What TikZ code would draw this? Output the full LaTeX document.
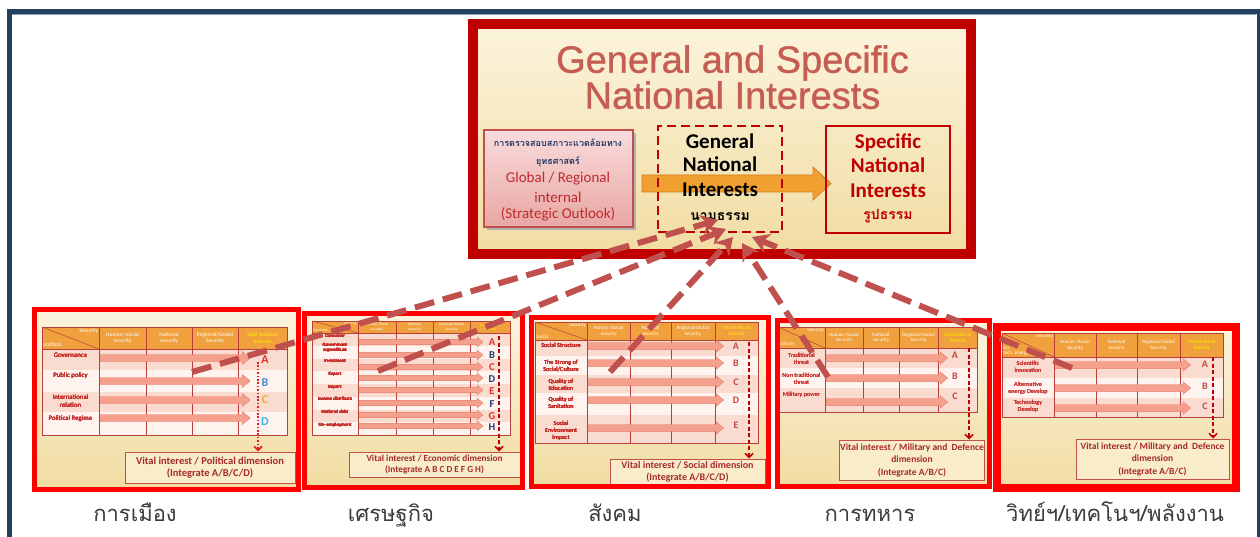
\documentclass[tikz,border=0pt]{standalone}
\usepackage{fontspec}
\setmainfont{Carlito}
\newfontfamily\titlefont[FakeBold=0.9]{Liberation Sans}
\newfontfamily\thaifont[Script=Thai]{Loma}
\usetikzlibrary{arrows.meta}
\definecolor{navyframe}{HTML}{243F60}
\definecolor{navylight}{HTML}{8FA2BC}
\definecolor{darkred}{HTML}{C00000}
\definecolor{accred}{HTML}{C0504D}
\definecolor{panelred}{HTML}{FF0000}
\definecolor{bgtop}{HTML}{FBF3DC}
\definecolor{bgbot}{HTML}{F1DCA2}
\definecolor{hdrorange}{HTML}{F0A03C}
\definecolor{rowpink}{HTML}{FADBD0}
\definecolor{rowlight}{HTML}{FEF3EE}
\definecolor{barfill}{HTML}{F5A08C}
\definecolor{barline}{HTML}{E47A64}
\definecolor{tblline}{HTML}{B8403A}
\definecolor{vitaltxt}{HTML}{A52A2A}
\definecolor{vitalfill}{HTML}{F8ECCB}
\definecolor{labred}{HTML}{C8302C}
\definecolor{letred}{HTML}{E03030}
\definecolor{letblue}{HTML}{4A90C8}
\definecolor{letyellow}{HTML}{E8B030}
\definecolor{letlblue}{HTML}{40B0E0}
\definecolor{letnavy}{HTML}{1F3A70}
\definecolor{letdull}{HTML}{C04848}
\definecolor{redA}{HTML}{E02020}
\definecolor{titlered}{HTML}{C65D52}
\definecolor{thainavy}{HTML}{1F3864}
\definecolor{lbred}{HTML}{C0282D}
\definecolor{lbtop}{HTML}{F9DCDC}
\definecolor{lbbot}{HTML}{E8A6A3}
\definecolor{orangeA}{HTML}{F0A030}
\definecolor{orangeD}{HTML}{D0801C}
\definecolor{labgrey}{HTML}{3C3C3C}
\newcommand\pxs[2]{\fontsize{#1}{#2}\selectfont}
% table header: #1 prefix, #2 category, #3 human label, #4 font size, #5 baselineskip
\newcommand\mktable[5]{%
  \fill[hdrorange] (\cA,\yT) rectangle (\cF,\yH);
  \draw[tblline,line width=0.5pt] (\cA,\yT) -- (\cB,\yH);
  \node[hdr,font=\pxs{#4}{#5},anchor=north east,inner sep=1pt] (#1s) at (\cB,\yT) {Security};
  \node[hdr,font=\pxs{#4}{#5},anchor=south west,inner sep=1pt,align=left] (#1c) at (\cA,\yH) {#2};
  \node[hdr,font=\pxs{#4}{#5}] (#1h2) at ({(\cB+\cC)/2},{(\yT+\yH)/2}) {#3\\security};
  \node[hdr,font=\pxs{#4}{#5}] (#1h3) at ({(\cC+\cD)/2},{(\yT+\yH)/2}) {National\\security};
  \node[hdr,font=\pxs{#4}{#5}] (#1h4) at ({(\cD+\cE)/2},{(\yT+\yH)/2}) {Regional/Global\\Security};
  \node[hdr,font=\pxs{#4}{#5},text=yellow] (#1h5) at ({(\cE+\cF)/2},{(\yT+\yH)/2}) {Vital National\\Interest};
}
\newcommand\mkgrid{%
  \draw[tblline,line width=0.8pt] (\cA,\yT) rectangle (\cF,\yB);
  \draw[tblline,line width=0.8pt] (\cA,\yH) -- (\cF,\yH);
  \foreach \xx in {\cB,\cC,\cD,\cE} \draw[tblline,line width=0.8pt] (\xx,\yT) -- (\xx,\yB);
}
% row arrow: #1 x start, #2 x head base, #3 y, #4 half thickness
\newcommand\rowbar[4]{%
  \filldraw[fill=barfill,draw=barline,line width=0.4pt]
    (#1,{#3-#4}) -- (#2,{#3-#4}) -- (#2,{#3-1.9*#4}) -- ({#2+2.3*#4},#3)
    -- (#2,{#3+1.9*#4}) -- (#2,{#3+#4}) -- (#1,{#3+#4}) -- cycle;
}
\begin{document}
\begin{tikzpicture}[x=1pt,y=-1pt,
  hdr/.style={text=white,align=center,inner sep=0pt},
  rowlab/.style={text=labred,align=center,inner sep=0pt},
  letter/.style={inner sep=0pt,font=\pxs{12}{12}\bfseries},
  vital/.style={draw=accred,line width=1pt,fill=vitalfill,text=vitaltxt,align=center,inner sep=1pt,font=\bfseries},
  gnarrow/.style={draw=accred,line width=6pt,dash pattern=on 20pt off 9pt,-{Stealth[length=17pt,width=20pt]}},
  vdot/.style={draw=redA,line width=1.6pt,dash pattern=on 1.6pt off 1.8pt,-{Straight Barb[length=4pt,width=8pt]}},
  vdash/.style={draw=darkred,line width=1.6pt,dash pattern=on 4pt off 2.5pt,-{Straight Barb[length=4pt,width=8pt]}},
  panel/.style={draw=panelred,line width=5pt},
  titletxt/.style={font=\titlefont\pxs{38}{36},align=center,anchor=north,inner sep=0pt},
  gnitxt/.style={font=\pxs{21}{21}\bfseries,anchor=base,inner sep=0pt},
  thailab/.style={font=\thaifont\pxs{22}{22},text=labgrey,inner sep=0pt,anchor=base},
]
\useasboundingbox (0,0) rectangle (1260,537);
\fill[white] (0,0) rectangle (1260,537);
% outer frame
\draw[navyframe,line width=5pt] (9.5,537) -- (9.5,11.5) -- (1260,11.5);
\draw[navylight,line width=1pt] (12,14.5) -- (1256,14.5);
\draw[navyframe,line width=3pt] (1258.5,11.5) -- (1258.5,537);

% ===== top box =====
\shade[top color=bgtop,bottom color=bgbot] (472.5,24.5) rectangle (970.5,254.5);
\draw[darkred,line width=10pt] (472.5,24.5) rectangle (970.5,254.5);
\node[titletxt,text=titlered] (tt) at (732.5,45) {General and Specific\\National Interests};
% left box
\fill[black!30] (487,133) rectangle (636,230);
\shade[top color=lbtop,bottom color=lbbot,draw=accred,line width=1.5pt] (484,130) rectangle (633,227);
\node[font=\thaifont\bfseries\pxs{9}{9},text=thainavy,inner sep=0pt] (lbt1) at (558,143) {การตรวจสอบสภาวะแวดล้อมทาง};
\node[font=\thaifont\bfseries\pxs{9}{9},text=thainavy,inner sep=0pt] (lbt2) at (558,162) {ยุทธศาสตร์};
\node[font=\pxs{15}{15},text=lbred,inner sep=0pt] (lbg) at (558,179) {Global / Regional};
\node[font=\pxs{15}{15},text=lbred,inner sep=0pt] (lbi) at (558,197) {internal};
\node[font=\pxs{15}{15},text=lbred,inner sep=0pt] (lbs) at (558,214) {(Strategic Outlook)};
% orange arrow
\filldraw[fill=orangeA,draw=orangeD,line width=0.8pt] (642,175) -- (813,175) -- (813,167) -- (831,183.5) -- (813,200) -- (813,192) -- (642,192) -- cycle;
% general national interests
\node[draw=darkred,line width=2.8pt,dash pattern=on 9pt off 5pt,minimum width=124pt,minimum height=106pt,inner sep=0pt] (gni) at (720,179) {};
\node[gnitxt] (g1) at (720,149) {General};
\node[gnitxt] (g2) at (720,172) {National};
\node[gnitxt] (g3) at (720,197) {Interests};
\node[font=\thaifont\bfseries\pxs{14}{14},anchor=base,inner sep=0pt] (g4) at (720,221) {นามธรรม};
% specific national interests
\node[draw=darkred,line width=2.8pt,minimum width=124pt,minimum height=107pt,inner sep=0pt] (sni) at (888,179.5) {};
\node[gnitxt,text=darkred] (s1t) at (888,149) {Specific};
\node[gnitxt,text=darkred] (s2t) at (888,173) {National};
\node[gnitxt,text=darkred] (s3t) at (888,198) {Interests};
\node[font=\thaifont\bfseries\pxs{14}{14},text=darkred,anchor=base,inner sep=0pt] (s4t) at (888,220) {รูปธรรม};

% ===== panel 1 : political =====
\shade[top color=bgtop,bottom color=bgbot] (34.5,309.5) rectangle (298.5,489.5);
\def\cA{42}\def\cB{99}\def\cC{146}\def\cD{192}\def\cE{238}\def\cF{287}
\def\yT{327}\def\yH{349}\def\yB{435}
\foreach \ya/\yb/\cc in {349/370/rowpink,370/392/rowlight,392/412/rowpink,412/435/rowlight}
  \fill[\cc] (\cA,\ya) rectangle (\cF,\yb);
\mktable{p1}{political}{Human /social}{5.6}{6.4}
\mkgrid
\foreach \yy in {358,381,400,418} \rowbar{100}{242}{\yy}{3.5}
\foreach \rlab/\yy [count=\i] in {Governance/355,Public policy/376,{International\\relation}/401,Political Regime/419}
  \node[rowlab,font=\pxs{6.8}{7.5}] (p1l\i) at (70.5,\yy) {\rlab};
\foreach \lt/\yy/\cl in {A/360/letred,B/383/letblue,C/400/letyellow,D/422/letlblue}
  \node[letter,text=\cl] (p1\lt) at (265,\yy) {\lt};
\node[vital,minimum width=170pt,minimum height=31pt,font=\bfseries\pxs{10.5}{12}] (p1v) at (210,467.5) {Vital interest / Political dimension\\(Integrate A/B/C/D)};
\coordinate (p1d) at (258,362);
\draw[vdot] (p1d) -- (p1d |- p1v.north);
\draw[panel] (34.5,309.5) rectangle (298.5,489.5);

% ===== panel 2 : economic =====
\shade[top color=bgtop,bottom color=bgbot] (304.5,313.5) rectangle (522.5,487.5);
\def\cA{312}\def\cB{358}\def\cC{396}\def\cD{433}\def\cE{470}\def\cF{510}
\def\yT{321}\def\yH{333}\def\yB{435}
\foreach \ya/\yb/\cc in {333/346/rowpink,346/359/rowlight,359/371/rowpink,371/384/rowlight,384/397/rowpink,397/410/rowlight,410/422/rowpink,422/435/rowlight}
  \fill[\cc] (\cA,\ya) rectangle (\cF,\yb);
\mktable{p2}{Economic}{Human /Social}{3.8}{4.2}
\mkgrid
\foreach \yy in {342,355,367,378,390,403,415,426} \rowbar{359}{477}{\yy}{2.6}
\foreach \rlab/\yy [count=\i] in {Consumer/336,{Government\\expenditure}/348,Investment/361,Export/374,Import/387,Income distribute/399,National debt/412,Un- employment/425}
  \node[rowlab,font=\pxs{4.8}{5.2}] (p2l\i) at (335,\yy) {\rlab};
\foreach \lt/\yy/\cl in {A/342/letred,B/355/letnavy,C/367/letred,D/379/letnavy,E/391/letred,F/404/letnavy,G/416/letred,H/427/letnavy}
  \node[letter,text=\cl,font=\pxs{10.5}{10.5}\bfseries] (p2\lt) at (492,\yy) {\lt};
\node[vital,minimum width=171pt,minimum height=25pt,font=\bfseries\pxs{9.2}{10.5}] (p2v) at (434.5,464.5) {Vital interest / Economic dimension\\(Integrate A B C D E F G H)};
\coordinate (p2d) at (499,336);
\draw[vdash] (p2d) -- (p2d |- p2v.north);
\draw[panel] (304.5,313.5) rectangle (522.5,487.5);

% ===== panel 3 : social =====
\shade[top color=bgtop,bottom color=bgbot] (531.5,317.5) rectangle (768.5,486.5);
\def\cA{535}\def\cB{587}\def\cC{630}\def\cD{671}\def\cE{715}\def\cF{758}
\def\yT{322}\def\yH{340}\def\yB{443}
\foreach \ya/\yb/\cc in {340/356/rowpink,356/375/rowlight,375/393/rowpink,393/415/rowlight,415/443/rowpink}
  \fill[\cc] (\cA,\ya) rectangle (\cF,\yb);
\mktable{p3}{Social}{Human /Social}{5}{5.6}
\mkgrid
\foreach \yy in {346,363,382,400,428} \rowbar{588}{716}{\yy}{3.3}
\foreach \rlab/\yy [count=\i] in {Social Structure/345,{The Strong of\\Social/Culture}/366,{Quality of\\Education}/385,{Quality of\\Sanitation}/403,{Social\\Environment\\impact}/431}
  \node[rowlab,font=\pxs{6.2}{7}] (p3l\i) at (561,\yy) {\rlab};
\foreach \lt/\yy in {A/346,B/363,C/382,D/400,E/425}
  \node[letter,text=letdull,font=\pxs{10}{10}\bfseries] (p3\lt) at (736,\yy) {\lt};
\node[vital,minimum width=155pt,minimum height=26pt,font=\bfseries\pxs{10}{11.5}] (p3v) at (687.5,472) {Vital interest / Social dimension\\(Integrate A/B/C/D)};
\coordinate (p3d) at (749,342);
\draw[vdash] (p3d) -- (p3d |- p3v.north);
\draw[panel] (531.5,317.5) rectangle (768.5,486.5);

% ===== panel 4 : military =====
\shade[top color=bgtop,bottom color=bgbot] (777.5,320.5) rectangle (989.5,486.5);
\def\cA{778}\def\cB{825}\def\cC{863}\def\cD{899}\def\cE{938}\def\cF{977}
\def\yT{327}\def\yH{348}\def\yB{412}
\foreach \ya/\yb/\cc in {348/368/rowpink,368/388/rowlight,388/412/rowpink}
  \fill[\cc] (\cA,\ya) rectangle (\cF,\yb);
\mktable{p4}{military}{Human /Social}{5}{5.6}
\mkgrid
\foreach \yy in {358,378,402} \rowbar{826}{940}{\yy}{3.3}
\foreach \rlab/\yy [count=\i] in {{Traditional\\threat}/359,{Non traditional\\threat}/379,Military power/395}
  \node[rowlab,font=\pxs{6.2}{7}] (p4l\i) at (801.5,\yy) {\rlab};
\foreach \lt/\yy in {A/355,B/376,C/396}
  \node[letter,text=letdull,font=\pxs{10}{10}\bfseries] (p4\lt) at (955,\yy) {\lt};
\node[vital,minimum width=134pt,minimum height=40pt,font=\bfseries\pxs{9.5}{12.5}] (p4v) at (912,460) {Vital interest / Military and\ \ Defence\\dimension\\(Integrate A/B/C)};
\coordinate (p4d) at (969,348);
\draw[vdash] (p4d) -- (p4d |- p4v.north);
\draw[panel] (777.5,320.5) rectangle (989.5,486.5);

% ===== panel 5 : science / technology / energy =====
\shade[top color=bgtop,bottom color=bgbot] (997,327) rectangle (1236,488);
\def\cA{1002}\def\cB{1054}\def\cC{1096}\def\cD{1137}\def\cE{1180}\def\cF{1223}
\def\yT{333}\def\yH{357}\def\yB{417}
\foreach \ya/\yb/\cc in {357/378/rowpink,378/398/rowlight,398/417/rowpink}
  \fill[\cc] (\cA,\ya) rectangle (\cF,\yb);
\mktable{p5}{Sci.\\tech. energy}{Human /Social}{5}{5.6}
\mkgrid
\foreach \yy in {365,388,408} \rowbar{1055}{1183}{\yy}{3.3}
\foreach \rlab/\yy [count=\i] in {{Scientific\\innovation}/367,{Alternative\\energy Develop}/388,{Technology\\Develop}/406}
  \node[rowlab,font=\pxs{6.2}{7}] (p5l\i) at (1028,\yy) {\rlab};
\foreach \lt/\yy in {A/364,B/386,C/406}
  \node[letter,text=letdull,font=\pxs{10}{10}\bfseries] (p5\lt) at (1205,\yy) {\lt};
\node[vital,minimum width=153pt,minimum height=40pt,font=\bfseries\pxs{9.5}{12.5}] (p5v) at (1152.5,459) {Vital interest / Military and\ \ Defence\\dimension\\(Integrate A/B/C)};
\coordinate (p5d) at (1213,357);
\draw[vdash] (p5d) -- (p5d |- p5v.north);
\draw[panel,line width=8pt] (997,327) rectangle (1236,488);

% ===== bottom Thai labels =====
\node[thailab] (lab1) at (135,521) {การเมือง};
\node[thailab] (lab2) at (391,521) {เศรษฐกิจ};
\node[thailab] (lab3) at (615,521) {สังคม};
\node[thailab] (lab4) at (870,521) {การทหาร};
\node[thailab] (lab5) at (1115,521) {วิทย์ฯ/เทคโนฯ/พลังงาน};

% ===== dashed arrows into General National Interests =====
\coordinate (st1) at (192,372); \coordinate (en1) at (718,220);
\coordinate (st2) at (378,371); \coordinate (en2) at (726,229);
\coordinate (st3) at (610,372); \coordinate (en3) at (733,237);
\coordinate (st4) at (828,377); \coordinate (en4) at (742,243);
\coordinate (st5) at (1072,368); \coordinate (en5) at (752,237);
\draw[gnarrow] (st1) -- (en1);
\draw[gnarrow] (st2) -- (en2);
\draw[gnarrow] (st3) -- (en3);
\draw[gnarrow] (st4) -- (en4);
\draw[gnarrow] (st5) -- (en5);
\end{tikzpicture}
\end{document}
